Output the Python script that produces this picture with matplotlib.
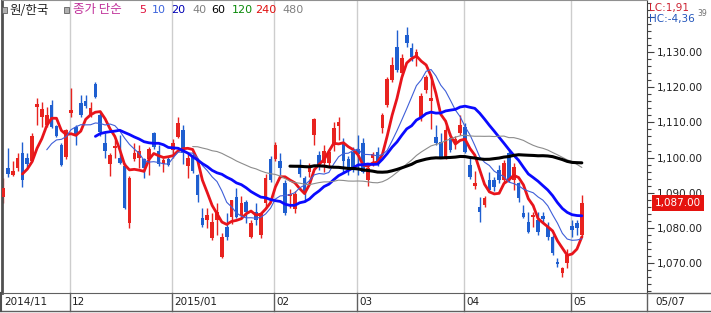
import matplotlib
matplotlib.use('Agg')
import matplotlib.pyplot as plt
import matplotlib.transforms as mtrans
from matplotlib.patches import Rectangle
from matplotlib.ticker import MultipleLocator, FuncFormatter
import pandas as pd

# 일봉 시가/고가/저가/종가 (2014/11 ~ 2015/05/07)
opens = [1088.8, 1096.9, 1095.1, 1096.9, 1101.4, 1100.0, 1099.1, 1114.5, 1111.5, 1109.3,
         1115.0, 1108.9, 1103.5, 1100.3, 1112.7, 1108.7, 1115.5, 1116.1, 1112.1, 1120.9,
         1112.1, 1104.1, 1098.3, 1102.6, 1100.0, 1097.7, 1081.3, 1099.7, 1100.0, 1099.7,
         1099.7, 1107.0, 1102.0, 1098.3, 1099.7, 1102.1, 1105.8, 1107.8, 1097.7, 1100.6,
         1095.1, 1082.8, 1082.3, 1077.2, 1082.3, 1071.8, 1080.3, 1083.1, 1088.9, 1083.5,
         1087.4, 1077.5, 1084.6, 1078.0, 1087.1, 1099.7, 1099.7, 1099.1, 1092.9, 1089.0,
         1085.5, 1097.7, 1094.3, 1096.0, 1106.4, 1100.6, 1098.6, 1098.5, 1103.5, 1109.0,
         1104.1, 1099.7, 1101.7, 1102.3, 1104.1, 1093.5, 1100.0, 1101.7, 1108.5, 1115.0,
         1122.0, 1131.4, 1124.0, 1134.8, 1131.1, 1128.5, 1111.6, 1119.2, 1116.0, 1105.8,
         1104.4, 1100.0, 1105.5, 1104.5, 1107.0, 1108.7, 1098.0, 1092.0, 1086.0, 1086.6,
         1093.6, 1093.6, 1096.6, 1093.6, 1101.4, 1093.6, 1092.8, 1084.3, 1081.7, 1083.0,
         1082.3, 1083.4, 1080.3, 1077.5, 1070.3, 1067.2, 1070.0, 1080.5, 1081.5, 1078.0]
highs = [1094.2, 1102.6, 1099.1, 1101.4, 1104.3, 1101.4, 1107.0, 1116.9, 1115.8, 1114.4,
         1116.4, 1109.3, 1104.1, 1108.1, 1119.7, 1109.3, 1117.8, 1117.8, 1115.8, 1121.5,
         1113.0, 1107.0, 1101.2, 1105.0, 1106.4, 1098.6, 1094.8, 1104.1, 1103.5, 1100.0,
         1103.0, 1107.3, 1103.5, 1100.0, 1100.5, 1105.3, 1111.5, 1109.3, 1101.1, 1101.5,
         1095.4, 1085.8, 1085.8, 1084.3, 1087.1, 1078.6, 1084.3, 1088.0, 1091.4, 1089.0,
         1088.0, 1082.3, 1087.1, 1084.6, 1095.4, 1100.5, 1104.4, 1101.4, 1093.5, 1091.0,
         1090.5, 1099.7, 1094.8, 1098.5, 1111.3, 1102.0, 1103.5, 1102.5, 1110.0, 1111.5,
         1105.5, 1100.5, 1103.0, 1106.4, 1105.5, 1098.0, 1101.5, 1103.0, 1112.7, 1122.8,
         1128.6, 1136.2, 1129.5, 1137.1, 1132.5, 1131.0, 1118.5, 1123.5, 1122.0, 1109.3,
         1107.0, 1109.3, 1107.0, 1106.0, 1112.0, 1109.8, 1100.5, 1096.3, 1088.9, 1089.2,
         1095.9, 1094.5, 1098.0, 1099.4, 1102.5, 1098.6, 1093.1, 1086.6, 1084.6, 1084.6,
         1084.6, 1084.6, 1081.7, 1078.0, 1071.5, 1069.0, 1074.1, 1082.3, 1082.3, 1089.4]
lows = [1087.1, 1094.5, 1094.8, 1096.3, 1091.6, 1097.2, 1099.0, 1109.3, 1108.7, 1108.7,
        1108.4, 1105.8, 1097.6, 1099.7, 1111.5, 1103.6, 1111.5, 1114.1, 1111.5, 1116.9,
        1106.1, 1100.0, 1094.8, 1100.0, 1098.3, 1085.5, 1080.1, 1099.1, 1097.0, 1094.1,
        1095.0, 1102.4, 1097.5, 1095.8, 1097.5, 1100.0, 1105.5, 1098.3, 1094.1, 1095.5,
        1087.4, 1080.2, 1080.0, 1076.6, 1078.0, 1071.5, 1076.6, 1081.0, 1082.8, 1082.5,
        1081.3, 1077.2, 1080.9, 1077.2, 1085.8, 1093.0, 1099.1, 1095.1, 1083.8, 1085.8,
        1084.3, 1094.5, 1087.4, 1094.5, 1103.6, 1096.5, 1096.0, 1097.0, 1102.0, 1105.0,
        1096.0, 1095.0, 1096.0, 1095.1, 1095.5, 1092.0, 1097.5, 1097.5, 1107.0, 1114.5,
        1121.5, 1124.3, 1123.5, 1131.4, 1127.5, 1126.0, 1110.5, 1118.5, 1108.0, 1103.6,
        1100.0, 1099.7, 1101.5, 1102.5, 1106.4, 1101.4, 1094.0, 1091.0, 1081.8, 1086.0,
        1090.2, 1090.5, 1092.8, 1093.0, 1093.0, 1090.8, 1087.4, 1082.8, 1078.6, 1080.3,
        1078.0, 1081.5, 1076.5, 1072.4, 1069.0, 1066.0, 1068.6, 1077.5, 1078.0, 1077.5]
closes = [1091.4, 1095.4, 1096.3, 1100.0, 1093.6, 1098.3, 1106.1, 1115.2, 1113.8, 1112.1,
          1108.7, 1106.1, 1097.9, 1107.8, 1113.4, 1106.4, 1112.1, 1114.7, 1114.1, 1117.2,
          1107.3, 1101.8, 1100.6, 1103.2, 1098.6, 1085.8, 1094.3, 1101.4, 1102.0, 1096.9,
          1102.5, 1103.0, 1098.3, 1099.4, 1098.0, 1104.1, 1109.8, 1101.3, 1100.0, 1096.3,
          1089.4, 1080.9, 1083.7, 1081.7, 1084.6, 1077.5, 1077.5, 1088.0, 1083.1, 1087.0,
          1084.6, 1081.3, 1082.3, 1084.3, 1094.3, 1093.6, 1103.6, 1096.9, 1084.3, 1089.7,
          1089.7, 1095.4, 1089.7, 1097.0, 1111.0, 1097.4, 1102.0, 1101.5, 1108.5, 1110.0,
          1099.1, 1096.3, 1097.4, 1101.0, 1095.9, 1097.0, 1101.0, 1098.6, 1112.0, 1122.3,
          1126.3, 1124.9, 1128.3, 1132.6, 1128.6, 1130.0, 1117.5, 1122.9, 1117.0, 1104.1,
          1100.0, 1107.8, 1102.1, 1105.3, 1109.3, 1101.7, 1094.6, 1092.7, 1084.5, 1088.6,
          1090.8, 1091.7, 1093.6, 1098.5, 1093.6, 1097.4, 1088.6, 1083.1, 1078.9, 1083.8,
          1078.9, 1082.6, 1077.5, 1072.9, 1069.7, 1068.6, 1072.4, 1079.4, 1079.9, 1087.0]

month_idx = [0, 14, 35, 56, 73, 95, 117]
month_labels = ['2014/11', '12', '2015/01', '02', '03', '04', '05']
last_date = '05/07'

ma_periods = [5, 10, 20, 40, 60]
ma_colors = ['#e8141b', '#3f5fd8', '#0a0aff', '#8c8c8c', '#000000']
ma_widths = [2.0, 0.8, 2.0, 0.8, 2.2]

legend_nums = ['5', '10', '20', '40', '60', '120', '240', '480']
legend_cols = ['#e0103c', '#3c64dc', '#0000b4', '#808080', '#000000', '#0a8a0a', '#e01010', '#808080']
legend_xs = [139, 152, 171, 192, 211, 232, 255, 282]

UP = '#e8231f'
DOWN = '#1f5fd0'

W, H = 711, 313
plt.rcParams['font.family'] = ['DejaVu Sans']
fig = plt.figure(figsize=(W / 100, H / 100), dpi=100)
ax = fig.add_axes([2 / W, 20 / H, 645 / W, 293 / H])
ax.set_xlim(-0.2, 132.4)
ax.set_ylim(1061.5, 1144.8)

df = pd.DataFrame({'o': opens, 'h': highs, 'l': lows, 'c': closes})
idx = df.index.values
col = [UP if c >= o else DOWN for o, c in zip(df.o, df.c)]

for i in month_idx[1:]:
    ax.axvline(i - 0.2, color='#cdcdcd', lw=1, zorder=0)

ax.vlines(idx, df.l, df.h, colors=col, lw=1, zorder=2)
body = (df.c - df.o).where((df.c - df.o).abs() > 0.4, 0.4)
ax.bar(idx, body, bottom=df.o, width=0.74, color=col, lw=0, zorder=3)

for n, c, w in zip(ma_periods, ma_colors, ma_widths):
    ax.plot(idx, df.c.rolling(n).mean(), color=c, lw=w, zorder=4, solid_capstyle='round')

# right axis
ax.yaxis.tick_right()
ax.yaxis.set_major_locator(MultipleLocator(10))
ax.yaxis.set_minor_locator(MultipleLocator(2))
ax.yaxis.set_major_formatter(FuncFormatter(lambda v, p: f'{v:,.2f}' if v < 1135 else ''))
ax.tick_params(axis='y', which='major', length=5, width=0.8, colors='#404040',
               labelcolor='#202020', labelsize=7.5, pad=2)
ax.tick_params(axis='y', which='minor', length=3, width=0.8, colors='#404040')
ax.set_xticks([])
ax.spines['left'].set_color('#505050')
ax.spines['left'].set_linewidth(2)
ax.spines['right'].set_color('#404040')
ax.spines['top'].set_color('#909090')
ax.spines['bottom'].set_color('#606060')

# date strip
blend = mtrans.blended_transform_factory(ax.transData, fig.transFigure)
y0, y1 = 1 - 293 / H, 1 - 311 / H
fig.add_artist(plt.Line2D([0, 1], [y1, y1], color='#606060', lw=1))
fig.add_artist(plt.Line2D([647 / W, 1], [y0, y0], color='#606060', lw=1))
fig.add_artist(plt.Line2D([647 / W, 647 / W], [y0, y1], color='#606060', lw=1))
fig.add_artist(plt.Line2D([1.5 / W, 1.5 / W], [y0, y1], color='#505050', lw=1.5))
for i, lab in zip(month_idx, month_labels):
    if i > 0:
        ax.plot([i - 0.2, i - 0.2], [y0, y1], transform=blend, color='#606060',
                lw=1, clip_on=False)
    ax.text(i + 0.2, 1 - 302 / H, lab, transform=blend, fontsize=7.5,
            va='center', ha='left', color='#202020', clip_on=False)
fig.text(655 / W, 1 - 302 / H, last_date, fontsize=7.5, va='center', color='#202020')

# last price box
ybl = mtrans.blended_transform_factory(fig.transFigure, ax.transData)
ax.text(655 / W, closes[-1], f'{closes[-1]:,.2f}', transform=ybl, color='white',
        fontsize=7.5, va='center', ha='left', clip_on=False,
        bbox=dict(boxstyle='square,pad=0.3', fc='#e5130f', ec='none'))

# top-right info
fig.text(649 / W, 1 - 8 / H, 'LC:1,91', color='#cc2030', fontsize=7.5, va='center')
fig.text(649 / W, 1 - 19 / H, 'HC:-4,36', color='#2255bb', fontsize=7.5, va='center')
fig.text(697 / W, 1 - 13 / H, '39', color='#707070', fontsize=5.5, va='center')

# legend row
kr = ['Noto Sans CJK KR', 'DejaVu Sans']
for sx in (2, 64):
    fig.add_artist(Rectangle((sx / W, 1 - 13 / H), 5 / W, 6 / H, transform=fig.transFigure,
                             fc='#b0b0b0', ec='#606060', lw=0.6))
fig.text(9 / W, 1 - 10 / H, '원/한국', family=kr, fontsize=9, va='center', color='#202020')
fig.text(73 / W, 1 - 10 / H, '종가 단순', family=kr, fontsize=9, va='center', color='#c0309a')
for t, c, x in zip(legend_nums, legend_cols, legend_xs):
    fig.text(x / W, 1 - 10 / H, t, fontsize=8, va='center', color=c)

fig.savefig('out.png', dpi=100)
